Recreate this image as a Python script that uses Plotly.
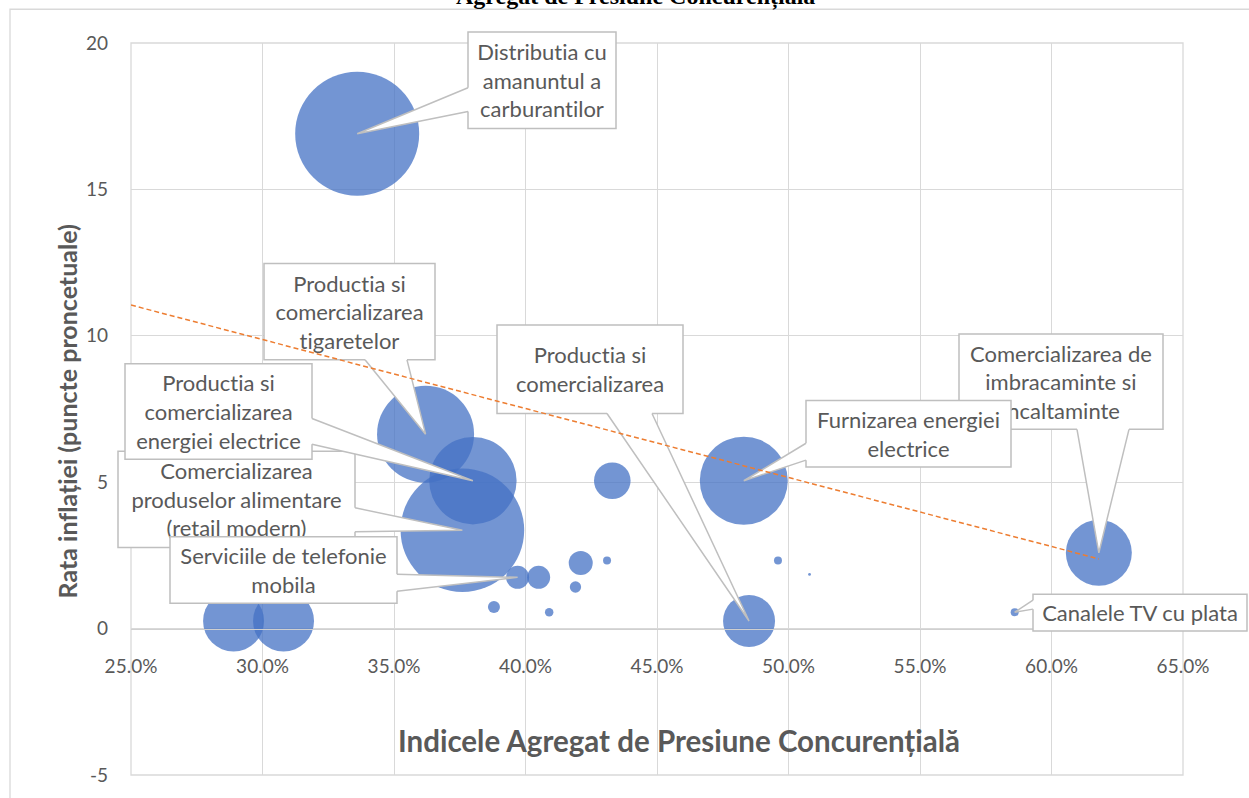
import plotly.graph_objects as go

# ---------------- data ----------------
sector_labels = [
    "Distributia cu<br>amanuntul a<br>carburantilor",
    "Productia si<br>comercializarea<br>tigaretelor",
    "Productia si<br>comercializarea<br>energiei electrice",
    "Comercializarea<br>produselor alimentare<br>(retail modern)",
    "Serviciile de telefonie<br>mobila",
    "Productia si<br>comercializarea",
    "Furnizarea energiei<br>electrice",
    "Comercializarea de<br>imbracaminte si<br>incaltaminte",
    "Canalele TV cu plata",
    "", "", "", "", "", "", "", "", "", "", "",
]
pressure_index = [0.336, 0.362, 0.380, 0.376, 0.397, 0.485, 0.483, 0.618, 0.586,
                  0.289, 0.308, 0.433, 0.405, 0.421, 0.431, 0.419, 0.388, 0.409, 0.496, 0.508]
inflation_rate = [16.9, 6.64, 5.05, 3.36, 1.75, 0.26, 5.05, 2.59, 0.56,
                  0.26, 0.26, 5.05, 1.75, 2.24, 2.33, 1.42, 0.74, 0.56, 2.33, 1.85]
bubble_size = [3844, 2352, 1910, 3819, 132, 676, 1936, 1089, 16,
               930, 930, 335, 132, 144, 16, 32, 36, 18, 16, 2]
trend_x = [0.25, 0.618]
trend_y = [11.05, 2.38]
x_ticks = [0.25, 0.30, 0.35, 0.40, 0.45, 0.50, 0.55, 0.60, 0.65]
y_ticks = [-5, 0, 5, 10, 15, 20]
y_tick_text = ["-5", "0", "5", "10", "15", "20"]
title_text = "Agregat de Presiune Concurențială"
x_title = "Indicele Agregat de Presiune Concurențială"
y_title = "Rata inflației (puncte proncetuale)"

# ---------------- layout geometry ----------------
W, H = 1249, 798
L, R, T, B = 131, 66, 43, 18
PW, PH = W - L - R, H - T - B
XR = [0.25, 0.65]
YR = [-5, 20]
GRID = "#d9d9d9"
TXT = "#595959"
FONT = "Lato"


def px_to_paper(px, py):
    return (px - L) / PW, (H - B - py) / PH


def data_to_paper(x, y):
    return (x - XR[0]) / (XR[1] - XR[0]), (y - YR[0]) / (YR[1] - YR[0])


def paper_to_px(u, v):
    return L + u * PW, H - B - v * PH


# callouts: index of data point, box in figure pixels (x0, y0, x1, y1), side of pointer, base span
callouts = [
    dict(idx=0, box=(468, 32, 616, 129), side="left", base=(88, 112)),
    dict(idx=1, box=(264, 265, 435, 362), side="bottom", base=(365, 407)),
    dict(idx=3, box=(118, 454, 355, 551), side="right", base=(511, 535)),
    dict(idx=2, box=(125, 366, 312, 462), side="right", base=(421, 447)),
    dict(idx=4, box=(170, 540, 397, 607), side="right", base=(578, 595)),
    dict(idx=5, box=(497, 327, 683, 416), side="bottom", base=(607, 652)),
    dict(idx=7, box=(959, 336, 1163, 432), side="bottom", base=(1077, 1129)),
    dict(idx=6, box=(806, 403, 1011, 470), side="left", base=(446, 463)),
    dict(idx=8, box=(1033, 598, 1247, 635), side="left", base=(604, 613)),
]

shapes = []
# outer chart border
ox0, oy0 = px_to_paper(10, 9)
ox1, oy1 = px_to_paper(W + 30, H + 30)
shapes.append(dict(type="rect", xref="paper", yref="paper", x0=ox0, y0=oy1, x1=ox1, y1=oy0,
                   line=dict(color=GRID, width=1.3), layer="below"))
# plot area frame
shapes.append(dict(type="rect", xref="paper", yref="paper", x0=0, y0=0, x1=1, y1=1,
                   line=dict(color=GRID, width=1.3), layer="below"))


def path_of(points):
    return "M " + " L ".join(f"{u:.6f},{v:.6f}" for u, v in points)


for c in callouts:
    i = c["idx"]
    x0, y0, x1, y1 = c["box"]
    u0, v0 = px_to_paper(x0, y1)
    u1, v1 = px_to_paper(x1, y0)
    shapes.append(dict(
        type="rect", xref="paper", yref="paper", x0=u0, y0=v0, x1=u1, y1=v1,
        fillcolor="white", line=dict(color="#bfbfbf", width=1.5), layer="above",
        label=dict(text=sector_labels[i], textposition="middle center", padding=0,
                   font=dict(family=FONT, size=22, color=TXT)),
    ))
    tu, tv = data_to_paper(pressure_index[i], inflation_rate[i])
    tip = paper_to_px(tu, tv)
    b0, b1 = c["base"]
    d = 2.5
    if c["side"] == "left":
        e0, e1, i0, i1 = (x0, b0), (x0, b1), (x0 + d, b0), (x0 + d, b1)
    elif c["side"] == "right":
        e0, e1, i0, i1 = (x1, b0), (x1, b1), (x1 - d, b0), (x1 - d, b1)
    else:
        e0, e1, i0, i1 = (b0, y1), (b1, y1), (b0, y1 - d), (b1, y1 - d)
    fill_pts = [px_to_paper(*p) for p in (i0, e0, tip, e1, i1)]
    shapes.append(dict(type="path", xref="paper", yref="paper", path=path_of(fill_pts) + " Z",
                       fillcolor="white", line=dict(width=0), layer="above"))
    line_pts = [px_to_paper(*p) for p in (e0, tip, e1)]
    shapes.append(dict(type="path", xref="paper", yref="paper", path=path_of(line_pts),
                       fillcolor="rgba(0,0,0,0)", line=dict(color="#bfbfbf", width=1.5), layer="above"))

# linear trendline (on top)
shapes.append(dict(type="line", xref="x", yref="y", x0=trend_x[0], y0=trend_y[0],
                   x1=trend_x[1], y1=trend_y[1], layer="above",
                   line=dict(color="#ED7D31", width=1.5, dash="5px,3px")))

fig = go.Figure()
fig.add_trace(go.Scatter(
    x=pressure_index, y=inflation_rate, mode="markers",
    marker=dict(size=bubble_size, sizemode="area",
                sizeref=2 * max(bubble_size) / (124 ** 2),
                color="#4472C4", opacity=0.75, line=dict(width=0)),
    text=sector_labels, hoverinfo="x+y",
))

annotations = []
tx, ty = px_to_paper(635, 12)
annotations.append(dict(text=title_text, xref="paper", yref="paper", x=tx, y=ty,
                        xanchor="center", yanchor="bottom", showarrow=False,
                        font=dict(family="Liberation Serif", size=24, color="#000000", weight="bold")))
ax_, ay_ = px_to_paper(679, 745)
annotations.append(dict(text=x_title, xref="paper", yref="paper", x=ax_, y=ay_,
                        xanchor="center", yanchor="middle", showarrow=False,
                        font=dict(family=FONT, size=29.5, color=TXT, weight="bold")))
yx_, yy_ = px_to_paper(67, 414)
annotations.append(dict(text=y_title, xref="paper", yref="paper", x=yx_, y=yy_, textangle=-90,
                        xanchor="center", yanchor="middle", showarrow=False,
                        font=dict(family=FONT, size=25, color=TXT, weight="bold")))

zero_pos = data_to_paper(XR[0], 0)[1]
fig.update_layout(
    width=W, height=H, margin=dict(l=L, r=R, t=T, b=B, pad=0),
    paper_bgcolor="white", plot_bgcolor="white", showlegend=False,
    font=dict(family=FONT, color=TXT),
    xaxis=dict(range=XR, tickvals=x_ticks, tickformat=".1%", anchor="free", position=zero_pos,
               showgrid=True, gridcolor=GRID, gridwidth=1.3, zeroline=False,
               showline=True, linecolor="#d0d0d0", linewidth=1.3, ticks="",
               ticklabelstandoff=20, tickfont=dict(family=FONT, size=19, color=TXT)),
    yaxis=dict(range=YR, tickvals=y_ticks, ticktext=y_tick_text, showgrid=True, gridcolor=GRID,
               gridwidth=1.3, zeroline=False, showline=False, ticks="", ticklabelstandoff=22,
               tickfont=dict(family=FONT, size=19, color=TXT)),
    shapes=shapes, annotations=annotations,
)

fig.write_html(
    "out.html",
    config={"displayModeBar": False},
    post_script=(
        "document.body.style.margin='0';"
        "var s=document.createElement('style');"
        "s.textContent='text{font-variant-ligatures:none;font-feature-settings:\"liga\" 0;}';"
        "document.head.appendChild(s);"
    ),
)
